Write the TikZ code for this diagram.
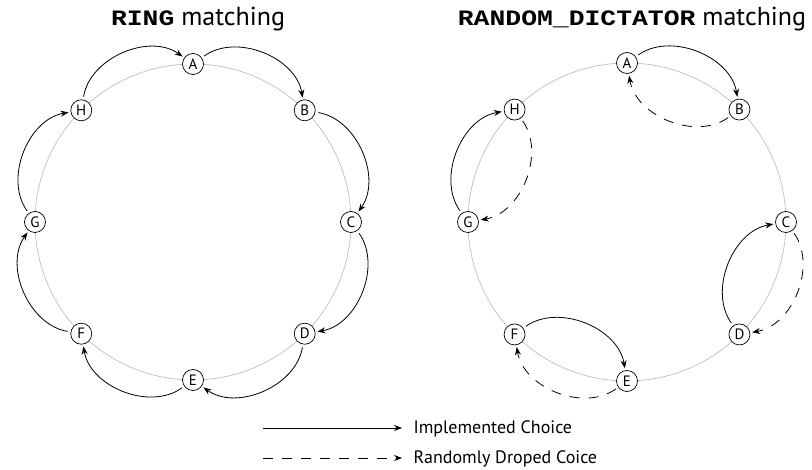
\documentclass[tikz,border=0pt]{standalone}
\usepackage{fontspec}
\setmainfont{PT Sans}
\newfontfamily\codefont{Liberation Mono}[FakeStretch=1.2]
\usetikzlibrary{arrows.meta}

\tikzset{
    agent/.style={circle, draw, fill=white, line width=0.7pt, inner sep=0pt,
        minimum size=21pt, font=\fontsize{15}{15}\selectfont},
    ringline/.style={gray!50, line width=0.7pt},
    tip/.style={-{Stealth[length=8pt, width=6pt]}, line width=0.8pt},
    choice/.style={tip, shorten <=3pt, shorten >=2pt, bend left=58},
    dropped/.style={dash pattern=on 10pt off 9pt},
    title/.style={font=\fontsize{26}{26}\selectfont},
    legend/.style={anchor=west, font=\fontsize{18}{18}\selectfont},
}
\newcommand{\code}[1]{{\codefont\fontsize{22}{22}\selectfont\bfseries #1}}

\begin{document}
\begin{tikzpicture}[x=1pt, y=1pt]
    \useasboundingbox (0,0) rectangle (812,469);

    % Ring matching (left)
    \begin{scope}[shift={(193,247)}]
        \draw[ringline] (0,0) circle (158);
        \foreach \n [count=\i] in {A,B,C,D,E,F,G,H}
            \node[agent] (r\n) at ({90-45*(\i-1)}:158) {\n};
    \end{scope}
    \foreach \a/\b in {H/A, A/B, B/C, C/D, D/E, E/F, F/G, G/H}
        \draw[choice] (r\a) to (r\b);

    % Random dictator matching (right)
    \begin{scope}[shift={(627,247)}]
        \draw[ringline] (0,0) circle (159);
        \foreach \n [count=\i] in {A,B,C,D,E,F,G,H}
            \node[agent] (d\n) at ({90-45*(\i-1)}:159) {\n};
    \end{scope}
    \foreach \a/\b in {A/B, G/H, D/C, F/E}
        \draw[choice] (d\a) to (d\b);
    \foreach \a/\b in {B/A, H/G, C/D, E/F}
        \draw[choice, dropped] (d\a) to (d\b);

    % Titles
    \node[title] (ringtitle) at (198,450) {\code{RING} matching};
    \node[title] (dicttitle) at (632,450) {\code{RANDOM\_DICTATOR} matching};

    % Legend
    \node[legend] (implemented) at (410,40) {Implemented Choice};
    \node[legend] (droppedtext) at (410,10) {Randomly Droped Coice};
    \coordinate (implstart) at (263,41);
    \coordinate (dropstart) at (263,11);
    \draw[tip, shorten >=8pt] (implstart) -- (implstart -| implemented.west);
    \draw[tip, dropped, shorten >=8pt] (dropstart) -- (dropstart -| droppedtext.west);
\end{tikzpicture}
\end{document}
